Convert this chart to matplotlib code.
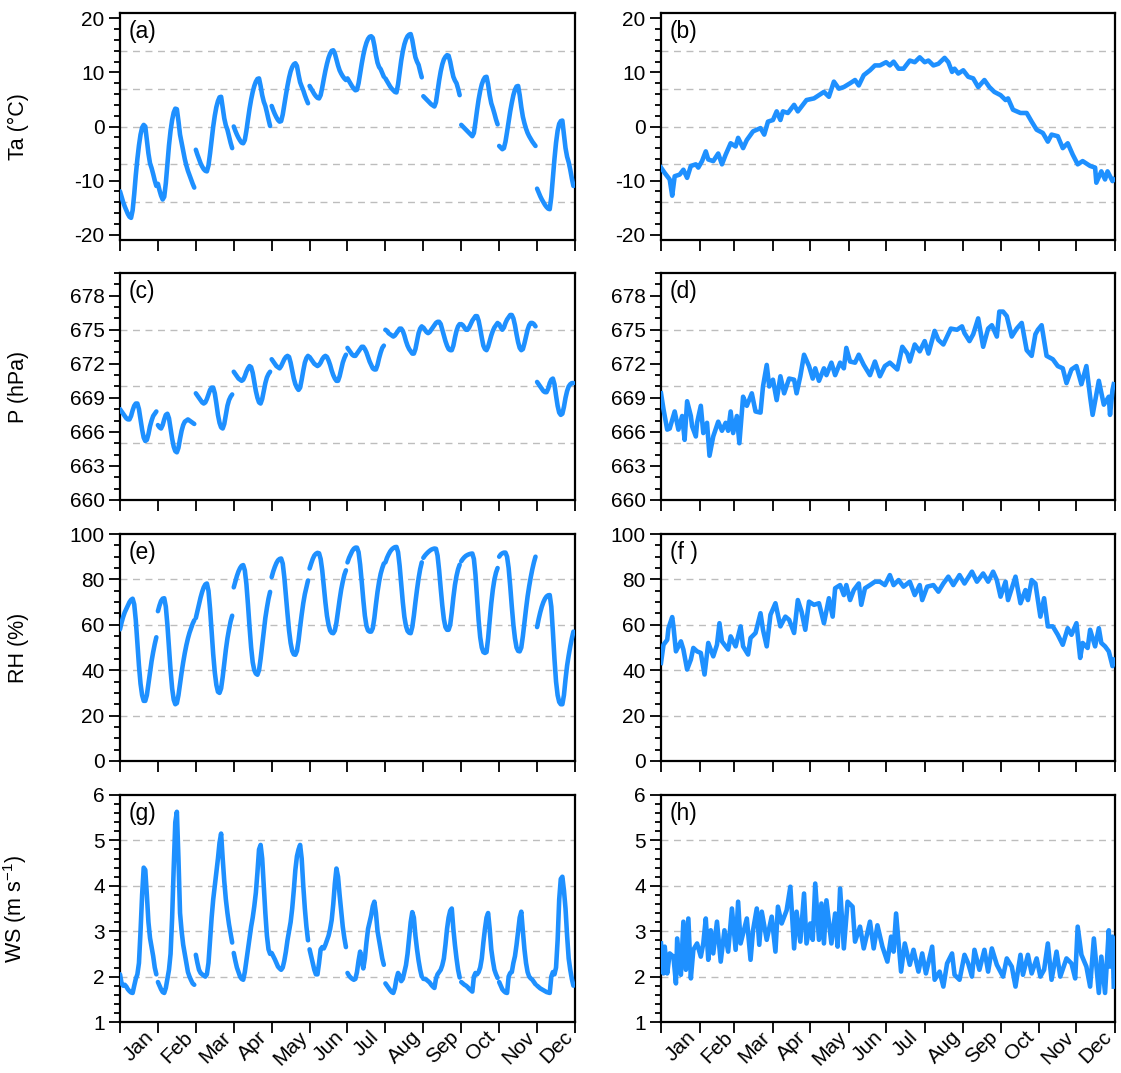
import matplotlib
matplotlib.use("Agg")
import matplotlib.pyplot as plt
import numpy as np
from matplotlib.ticker import MultipleLocator

plt.rcParams['font.family'] = ['Liberation Sans', 'DejaVu Sans']
plt.rcParams['axes.unicode_minus'] = False

months = ['Jan', 'Feb', 'Mar', 'Apr', 'May', 'Jun', 'Jul', 'Aug', 'Sep', 'Oct', 'Nov', 'Dec']
month_days = [31, 28, 31, 30, 31, 30, 31, 31, 30, 31, 30, 31]

# ---- monthly mean diurnal cycles (24 hourly values per month) ----
ta_diurnal = [
    [-12.0,-13.0,-14.0,-14.8,-15.5,-16.2,-16.7,-16.9,-15.5,-12.5,-9.0,-6.0,-3.5,-1.5,-0.2,0.3,0.0,-2.5,-5.0,-6.8,-7.7,-8.8,-10.0,-11.0],
    [-10.6,-11.8,-12.8,-13.5,-13.0,-10.5,-7.0,-3.5,-0.8,1.2,2.6,3.3,3.2,1.0,-1.5,-3.0,-4.5,-6.0,-7.2,-8.2,-9.0,-9.8,-10.6,-11.3],
    [-4.3,-5.2,-6.0,-6.8,-7.4,-7.9,-8.2,-8.3,-7.2,-5.0,-2.5,0.0,2.0,3.6,4.7,5.4,5.5,3.5,1.5,0.2,-0.6,-1.8,-3.0,-4.0],
    [0.0,-0.8,-1.5,-2.1,-2.6,-3.0,-3.1,-2.5,-0.8,1.3,3.3,5.0,6.4,7.5,8.3,8.8,8.9,7.5,5.8,4.6,3.8,2.6,1.3,0.1],
    [3.8,3.0,2.3,1.7,1.2,0.9,1.0,2.2,4.0,5.8,7.5,9.0,10.2,11.0,11.5,11.7,11.2,9.6,8.2,7.4,6.7,5.8,5.0,4.3],
    [7.5,7.0,6.5,6.0,5.6,5.3,5.2,5.8,7.2,8.8,10.3,11.6,12.7,13.5,14.0,14.1,13.5,12.4,11.3,10.4,9.8,9.3,8.9,8.6],
    [8.9,8.4,7.9,7.4,7.0,6.7,6.8,8.0,9.8,11.6,13.2,14.5,15.5,16.2,16.6,16.7,16.4,15.0,13.2,11.8,11.0,10.6,9.9,9.2],
    [8.9,8.4,7.9,7.4,7.0,6.7,6.4,6.3,7.8,10.0,12.2,13.9,15.2,16.1,16.7,17.0,17.1,16.0,14.3,12.8,12.0,11.4,10.2,9.1],
    [5.6,5.3,5.0,4.7,4.4,4.1,3.9,3.7,4.5,6.5,8.5,10.2,11.5,12.4,12.9,13.2,13.1,12.0,10.5,9.2,8.5,8.0,7.0,5.8],
    [0.3,0.0,-0.3,-0.6,-0.9,-1.2,-1.5,-1.8,-1.2,0.8,3.0,5.0,6.6,7.8,8.6,9.1,9.2,7.8,5.8,4.3,3.4,2.4,1.3,0.4],
    [-3.6,-3.9,-4.2,-4.0,-2.8,-1.0,0.9,2.8,4.4,5.8,6.8,7.4,7.5,5.8,3.6,1.8,0.6,-0.4,-1.2,-1.8,-2.3,-2.8,-3.2,-3.6],
    [-11.5,-12.2,-12.9,-13.5,-14.0,-14.5,-14.9,-15.2,-15.3,-13.0,-9.5,-6.0,-3.0,-0.8,0.5,1.0,1.1,-1.5,-4.0,-5.6,-6.6,-8.0,-9.6,-11.0],
]

p_diurnal = [
    [668.0,667.8,667.6,667.4,667.2,667.1,667.1,667.4,667.9,668.3,668.5,668.5,668.0,667.1,666.2,665.5,665.2,665.3,665.8,666.5,667.0,667.4,667.6,667.8],
    [666.6,666.4,666.3,666.6,667.1,667.5,667.6,667.2,666.3,665.4,664.7,664.3,664.2,664.6,665.4,666.1,666.6,666.9,667.0,667.1,667.0,666.9,666.8,666.7],
    [669.4,669.2,669.0,668.8,668.6,668.5,668.6,668.9,669.3,669.7,669.9,669.9,669.4,668.5,667.5,666.8,666.4,666.3,666.7,667.5,668.3,668.8,669.1,669.3],
    [671.3,671.1,670.9,670.7,670.6,670.5,670.6,670.9,671.3,671.6,671.8,671.7,671.2,670.4,669.6,669.0,668.6,668.5,668.9,669.6,670.3,670.8,671.1,671.3],
    [672.4,672.2,672.0,671.8,671.7,671.6,671.8,672.1,672.4,672.6,672.7,672.6,672.1,671.4,670.7,670.2,669.9,669.7,669.9,670.6,671.4,672.1,672.5,672.7],
    [672.6,672.4,672.2,672.0,671.9,671.8,671.9,672.1,672.4,672.6,672.7,672.6,672.3,671.9,671.4,671.0,670.7,670.5,670.5,670.9,671.5,672.1,672.5,672.8],
    [673.4,673.2,673.0,672.8,672.7,672.7,672.9,673.1,673.3,673.5,673.5,673.3,673.0,672.6,672.2,671.9,671.6,671.5,671.5,671.9,672.5,673.0,673.4,673.6],
    [675.0,674.9,674.7,674.6,674.5,674.4,674.5,674.7,674.9,675.1,675.1,674.9,674.5,674.0,673.6,673.3,673.1,672.9,672.9,673.3,674.0,674.7,675.1,675.3],
    [675.2,675.0,674.8,674.7,674.8,675.0,675.2,675.4,675.6,675.7,675.7,675.5,675.0,674.5,674.0,673.6,673.3,673.2,673.2,673.6,674.3,674.9,675.3,675.5],
    [675.5,675.4,675.2,675.0,675.0,675.2,675.5,675.8,676.0,676.2,676.2,675.8,675.1,674.3,673.6,673.3,673.2,673.5,674.0,674.5,674.9,675.2,675.4,675.6],
    [675.5,675.2,675.0,675.2,675.6,675.9,676.1,676.3,676.3,676.0,675.4,674.6,673.9,673.4,673.2,673.3,673.8,674.4,675.0,675.4,675.6,675.6,675.5,675.3],
    [670.4,670.2,670.0,669.8,669.6,669.5,669.5,669.8,670.3,670.6,670.7,670.2,669.2,668.3,667.7,667.5,667.6,668.2,669.0,669.6,670.0,670.2,670.3,670.3],
]

rh_diurnal = [
    [58,61,63.5,65.5,67,68.5,70,71,71.5,69,62,52,42,34,29,26.5,26.5,29,34,39,44,48,51.5,54.5],
    [66,68.5,70.5,71.5,71.7,68,60,50,40,32,27,25,25.5,29,34,39,43.5,47.5,51,54,56.5,58.5,60.5,62],
    [63,66,69,72,74.5,76.5,77.8,78.2,75,67,57,47,39,33.5,30.5,30,32,37,43,49,54,58,61.5,64],
    [76.5,79,81.5,83.5,85,86,86.3,84,78,69,59,50,43.5,40,38.5,38,40,45,51,57,63,67.5,71.5,74.5],
    [81,83.5,85.5,87.2,88.4,89,89.2,87,81,73,65,57.5,52,48.5,47,46.8,48.5,53,59,64.5,69.5,73.5,76.5,79.5],
    [84.8,87,89,90.5,91.3,91.7,91.5,89,84,77,70,64,60,57.5,56.5,56.3,57.5,61,66,71,75.5,79,82,84],
    [87.5,89.5,91,92.5,93.5,94,94,92,86.5,79,71,64,59.5,57.5,57,57,58.5,63,69,74.5,79,82.5,85,87],
    [87.5,89.5,91,92.3,93.2,93.8,94.2,94.3,92,86,78,70,63.5,59.5,57.3,56.5,56.3,59,64,70,75.5,80.5,84.5,87.5],
    [89.5,90.5,91.3,92,92.6,93.1,93.4,93.6,93.5,90.5,84,76,68.5,62.5,59,57.8,57.8,60,65.5,72,77.5,81.5,84.5,86.5],
    [88,89,89.8,90.4,90.8,91.1,91.3,91.4,89,82,72,62,54.5,50,48,47.6,48,54,62,69.5,75.5,80,83,85],
    [90,91,91.5,91.8,91.8,90,85,77,68,60,54,50,48.5,48.3,50,55,61,67,72.5,77,81,84.5,87.5,90],
    [59,62.5,65.5,68,70,71.5,72.5,73,73.1,68,57,45,35,29,26,25,25,29,36,42,46.5,50.5,54,57],
]

ws_diurnal = [
    [2.05,1.85,1.8,1.82,1.78,1.72,1.68,1.65,1.64,1.8,1.95,2.05,2.3,3.0,3.8,4.4,4.35,3.8,3.2,2.85,2.65,2.45,2.2,2.05],
    [1.88,1.8,1.72,1.66,1.64,1.75,1.95,2.15,2.5,3.3,4.4,5.4,5.63,4.6,3.4,3.0,2.7,2.5,2.3,2.1,2.0,1.92,1.85,1.82],
    [2.48,2.3,2.15,2.08,2.05,2.02,2.0,2.05,2.3,2.8,3.3,3.7,4.0,4.3,4.6,4.95,5.15,4.6,4.1,3.7,3.4,3.15,2.95,2.75],
    [2.52,2.35,2.2,2.1,2.0,1.95,1.93,2.1,2.35,2.6,2.85,3.1,3.3,3.55,3.85,4.3,4.8,4.9,4.6,4.0,3.4,2.9,2.6,2.5],
    [2.52,2.45,2.38,2.3,2.22,2.18,2.15,2.2,2.35,2.55,2.8,3.0,3.2,3.5,3.9,4.35,4.65,4.8,4.9,4.6,4.0,3.5,3.1,2.8],
    [2.6,2.45,2.3,2.15,2.05,2.05,2.3,2.6,2.65,2.62,2.7,2.8,2.9,3.05,3.25,3.6,4.05,4.38,4.2,3.8,3.45,3.1,2.85,2.65],
    [2.08,2.02,1.98,1.95,1.93,1.95,2.1,2.35,2.55,2.35,2.18,2.4,2.75,3.05,3.2,3.35,3.55,3.65,3.4,3.0,2.8,2.6,2.4,2.26],
    [1.85,1.8,1.75,1.7,1.66,1.64,1.75,1.95,2.08,2.02,1.9,1.95,2.1,2.25,2.5,2.85,3.2,3.42,3.3,2.9,2.6,2.35,2.15,2.0],
    [1.95,1.95,1.93,1.9,1.87,1.82,1.78,1.75,1.95,2.05,2.1,2.15,2.25,2.4,2.7,3.05,3.3,3.45,3.5,3.05,2.7,2.4,2.15,1.98],
    [1.88,1.85,1.82,1.8,1.77,1.73,1.7,1.67,2.0,2.08,2.05,2.1,2.2,2.4,2.75,3.05,3.3,3.4,3.05,2.6,2.35,2.15,2.05,1.97],
    [1.88,1.8,1.72,1.68,1.65,1.64,2.0,2.08,2.1,2.3,2.45,2.7,3.0,3.3,3.43,3.0,2.6,2.3,2.1,2.0,1.96,1.93,1.88,1.83],
    [1.8,1.77,1.74,1.72,1.7,1.68,1.66,1.65,1.64,2.0,2.1,2.05,2.2,2.8,3.7,4.15,4.2,3.9,3.5,2.9,2.4,2.15,1.95,1.8],
]

# ---- daily means (day of year, value) ----
ta_days = [0,3,7,9,11,15,18,21,24,28,30,33,36,38,42,46,49,52,56,60,62,66,69,74,80,83,86,90,93,96,98,102,107,110,113,117,123,127,131,135,139,143,147,152,156,159,163,168,172,176,181,184,187,191,195,200,204,208,212,215,219,223,228,231,234,236,239,243,247,251,255,260,264,268,273,277,279,283,289,294,298,302,307,311,314,319,323,327,331,335,339,345,349,350,354,357,359,363,364]
ta_daily = [-7.6,-8.6,-9.8,-12.8,-9.2,-8.9,-8.0,-9.5,-7.3,-7.0,-7.6,-6.4,-4.6,-6.1,-6.4,-5.0,-7.0,-5.2,-3.1,-3.7,-2.1,-4.0,-2.5,-0.9,-0.3,-1.5,0.9,1.2,2.8,1.2,2.8,2.5,4.0,2.8,3.7,4.9,5.2,5.8,6.4,5.5,8.3,7.0,7.3,8.0,8.6,7.6,9.5,10.4,11.3,11.3,11.9,11.3,12.0,10.7,10.7,12.2,11.9,12.8,11.9,12.2,11.3,11.6,12.7,11.9,10.1,10.7,9.8,10.4,9.2,8.9,7.3,8.6,7.3,6.4,5.8,4.9,5.2,3.1,2.5,2.5,0.9,-0.6,-1.2,-2.8,-1.5,-1.8,-4.0,-3.1,-5.2,-7.0,-6.4,-7.3,-7.6,-10.4,-8.3,-9.8,-8.3,-10.1,-9.8]

p_days = [0,2,5,7,11,14,17,19,21,24,25,28,29,32,34,37,39,42,46,49,52,54,56,58,61,63,66,69,73,76,80,82,85,87,90,93,96,99,103,107,109,112,115,119,122,124,127,131,133,137,140,144,147,149,152,156,159,163,168,172,176,180,184,190,194,198,200,204,208,212,215,220,223,227,233,238,242,244,248,251,255,259,263,266,270,272,275,278,282,286,290,294,298,301,303,306,310,315,319,323,326,330,334,338,342,345,347,352,356,360,361,363,364]
p_daily = [669.4,668.0,666.2,666.3,667.8,666.2,667.4,665.3,668.7,667.4,666.5,665.6,666.8,668.3,665.9,666.8,663.9,665.6,666.9,666.1,666.8,666.1,667.8,665.9,667.4,665.0,669.1,668.3,669.4,667.8,667.7,670.0,671.9,670.0,670.6,668.8,670.9,669.4,670.7,670.6,669.4,670.9,672.8,671.8,670.7,671.6,670.5,671.6,671.0,672.1,671.0,672.1,671.6,673.4,672.2,672.1,672.8,671.9,671.0,672.2,670.9,671.8,672.1,671.5,673.5,672.9,672.2,673.7,673.1,674.0,672.9,674.9,674.1,673.7,675.1,675.0,675.3,674.7,674.0,674.6,676.0,673.5,675.1,675.4,674.4,676.6,676.6,676.2,674.4,675.1,675.6,673.2,672.7,674.6,675.0,675.4,672.7,672.4,671.8,671.6,670.3,671.5,671.8,670.2,671.8,669.1,667.5,670.5,668.4,669.1,667.5,669.7,670.2]

rh_days = [0,2,5,6,9,10,12,16,18,21,24,26,29,32,35,38,42,45,47,49,54,56,60,64,66,70,72,76,80,82,85,88,92,96,100,103,107,110,113,116,119,123,127,131,135,138,140,144,147,149,152,155,159,161,164,168,172,176,180,184,187,191,195,200,204,208,210,214,219,223,227,231,235,240,244,250,254,259,263,267,270,273,277,279,285,289,293,295,298,301,305,308,311,315,319,323,327,330,334,337,339,343,345,349,352,354,357,360,363,364]
rh_daily = [43.2,51.2,53.4,58.5,63.4,59.3,48.3,52.7,49.1,40.3,44.7,49.8,48.3,47.6,38.1,52.0,46.1,51.2,60.7,52.7,49.1,54.9,50.5,59.3,50.5,46.9,54.2,56.4,65.1,57.8,50.5,64.4,69.5,59.3,63.6,62.2,56.4,70.9,65.8,57.8,70.2,68.8,69.5,60.7,71.7,63.6,76.1,77.5,73.1,77.5,70.9,75.3,78.2,68.8,76.1,77.5,79.0,79.0,77.5,81.9,77.5,79.7,76.8,79.0,73.1,77.5,70.9,76.8,77.5,74.6,78.2,81.2,77.5,81.9,78.2,83.4,79.0,82.6,79.0,83.4,79.7,72.4,79.0,70.9,81.2,69.5,75.3,70.9,79.7,78.2,63.6,71.7,59.3,59.3,55.6,51.2,58.5,55.6,60.7,45.4,52.0,49.8,57.8,50.5,58.5,52.0,50.5,48.3,41.8,44.7]

ws_days = [0,2,3,5,7,10,12,13,16,18,20,22,24,26,29,32,34,36,38,40,42,45,48,51,54,57,60,62,64,69,72,74,77,79,81,85,89,92,94,97,101,104,107,109,112,115,117,120,122,124,127,129,131,133,137,140,142,144,147,150,154,156,160,163,168,171,174,178,182,185,187,189,193,196,200,203,207,210,213,218,220,224,227,230,234,236,240,244,247,250,252,256,260,263,266,270,275,278,282,285,289,291,295,298,302,305,308,311,314,318,321,326,330,333,335,338,342,345,348,352,354,357,360,361,363,364]
ws_daily = [2.73,2.07,2.66,2.07,2.51,2.44,1.85,2.84,2.04,3.21,2.15,3.28,1.96,2.59,2.73,2.44,2.73,3.28,2.37,3.02,2.51,3.21,2.33,3.02,2.55,3.50,2.59,3.65,2.73,3.28,2.37,3.02,3.50,2.70,3.43,2.81,3.32,2.55,3.54,3.17,3.46,3.98,2.62,3.43,2.77,3.83,2.73,3.17,2.81,4.05,2.81,3.61,2.73,3.68,2.73,3.39,2.66,3.94,2.62,3.65,3.54,2.77,3.10,2.62,3.21,2.62,3.13,2.66,2.33,2.88,2.55,3.39,2.11,2.73,2.26,2.59,2.11,2.51,2.07,2.66,1.93,2.11,1.78,2.29,2.51,2.04,1.93,2.48,2.29,2.00,2.59,2.15,2.59,2.11,2.62,2.26,2.00,2.40,2.22,1.78,2.48,2.04,2.48,2.07,2.40,2.00,2.15,2.73,1.93,2.55,2.00,2.40,2.29,1.96,3.10,2.48,2.22,1.78,2.84,1.64,2.44,1.64,3.02,2.22,2.88,1.78]

# ---- panel styling ----
ylabels = ['Ta (°C)', 'P (hPa)', 'RH (%)', 'WS (m s$^{\\mathregular{-1}}$)']
ylims = [(-21, 21), (660, 680), (0, 100), (1, 6)]
major_steps = [10, 3, 20, 1]
minor_steps = [2, 1, 5, 0.2]
grid_levels = [[-14, -7, 0, 7, 14], [665, 670, 675], [20, 40, 60, 80], [2, 3, 4, 5]]
letters = [('(a)', '(b)'), ('(c)', '(d)'), ('(e)', '(f )'), ('(g)', '(h)')]
diurnal = [ta_diurnal, p_diurnal, rh_diurnal, ws_diurnal]
daily = [(ta_days, ta_daily), (p_days, p_daily), (rh_days, rh_daily), (ws_days, ws_daily)]

COLOR = '#1E90FF'
LW = 3.3
W, H = 1121, 1073
fig = plt.figure(figsize=(W / 100, H / 100), dpi=100)

col_left = [120, 661]
col_width = [455, 454]
row_top = [13, 273, 534, 795]
row_h = 227

# month boundaries
hour_edges = [24 * m for m in range(13)]
hour_centers = [24 * m + 12 for m in range(12)]
day_edges = list(np.concatenate([[0], np.cumsum(month_days)]))
day_centers = [(day_edges[i] + day_edges[i + 1]) / 2 for i in range(12)]

for r in range(4):
    for c in range(2):
        ax = fig.add_axes([col_left[c] / W, 1 - (row_top[r] + row_h) / H,
                           col_width[c] / W, row_h / H])
        for g in grid_levels[r]:
            ax.axhline(g, color='#bdbdbd', lw=1.0, ls=(0, (5, 4)), zorder=1)
        if c == 0:
            for m, seg in enumerate(diurnal[r]):
                hours = np.arange(24) + 24 * m
                ax.plot(hours, seg, color=COLOR, lw=LW, solid_capstyle='round', zorder=3)
            ax.set_xlim(0, 288)
            edges, centers = hour_edges, hour_centers
        else:
            d, v = daily[r]
            ax.plot(d, v, color=COLOR, lw=LW, solid_joinstyle='round', zorder=3)
            ax.set_xlim(0, 365)
            edges, centers = day_edges, day_centers
        ax.set_ylim(*ylims[r])
        ax.yaxis.set_major_locator(MultipleLocator(major_steps[r]))
        ax.yaxis.set_minor_locator(MultipleLocator(minor_steps[r]))
        ax.set_xticks(edges)
        ax.set_xticklabels([])
        ax.set_xticks(centers, minor=True)
        if r == 3:
            ax.set_xticklabels(months, minor=True, rotation=45, ha='center', va='top', fontsize=15)
        else:
            ax.set_xticklabels([], minor=True)
        ax.tick_params(axis='y', which='major', direction='out', length=8, width=1.3, labelsize=15, pad=3)
        ax.tick_params(axis='y', which='minor', direction='out', length=4.5, width=1.3)
        ax.tick_params(axis='x', which='major', direction='out', length=8, width=1.3)
        ax.tick_params(axis='x', which='minor', length=0, pad=4)
        for s in ax.spines.values():
            s.set_linewidth(1.6)
        ax.text(0.02, 0.97, letters[r][c], transform=ax.transAxes, ha='left', va='top', fontsize=16.5)
        if c == 0:
            ax.set_ylabel(ylabels[r], fontsize=15.5)
            ax.yaxis.set_label_coords(-0.2, 0.5)

fig.savefig('out.png', dpi=100)
